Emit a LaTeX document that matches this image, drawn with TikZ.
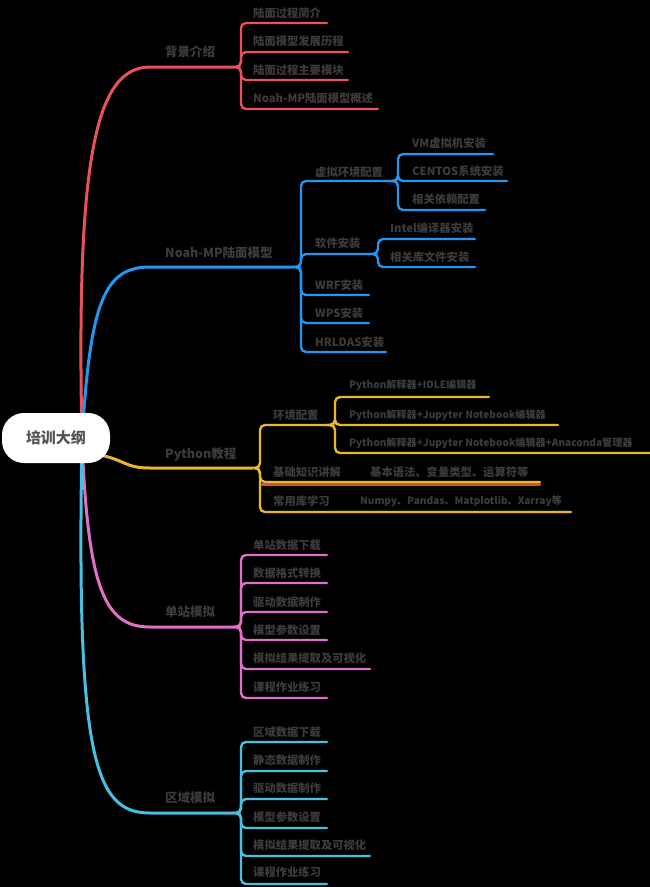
\documentclass[tikz,border=0pt]{standalone}
\usepackage{fontspec}
\setmainfont{Noto Sans CJK SC}
\definecolor{cR}{HTML}{E8525C}
\definecolor{cB}{HTML}{2196F3}
\definecolor{cY}{HTML}{E8B828}
\definecolor{cO}{HTML}{D0502A}
\definecolor{cP}{HTML}{E070C8}
\definecolor{cC}{HTML}{48C0E0}
\definecolor{txt}{HTML}{3C3C3C}
\definecolor{roottxt}{HTML}{555555}
\begin{document}
\begin{tikzpicture}[x=1pt,y=-1pt,
  mainline/.style={line width=3pt,line cap=round},
  subline/.style={line width=2.4pt,line cap=round,rounded corners=5pt},
  lab/.style={text=txt,font=\fontsize{11.3}{12}\selectfont\bfseries,anchor=west,inner sep=0pt},
  latlab/.style={lab,font=\fontsize{10.1}{11}\selectfont\bfseries},
  mlab/.style={text=txt,font=\fontsize{12.5}{13}\selectfont\bfseries,anchor=west,inner sep=0pt},
  rootbox/.style={fill=white,rounded corners=22pt,minimum width=108pt,minimum height=50pt,
    text=roottxt,font=\fontsize{15}{16}\selectfont\bfseries,inner sep=0pt}]
\fill[black] (0,0) rectangle (650,887);
\useasboundingbox (0,0) rectangle (650,887);

\coordinate (hub) at (82,440);
\coordinate (hubY) at (100,455);
% ---------------- main branches
\coordinate (bR) at (233,67);
\coordinate (bB) at (293,267);
\coordinate (bY) at (252,468);
\coordinate (bP) at (233,627);
\coordinate (bC) at (233,813);
\draw[mainline,cR] (hub) .. controls (76,160) and (95,67) .. (150,67) -- (bR);
\draw[mainline,cB] (hub) .. controls (90,300) and (105,267) .. (150,267) -- (bB);
\draw[mainline,cP] (hub) .. controls (88,590) and (105,627) .. (150,627) -- (bP);
\draw[mainline,cC] (hub) .. controls (76,760) and (95,813) .. (150,813) -- (bC);
\draw[mainline,cY] (hubY) .. controls (125,460) and (125,468) .. (150,468) -- (bY);

\node[mlab] (tR) at (165,52) {背景介绍};
\node[mlab] (tB) at (165,253) {Noah-MP陆面模型};
\node[mlab] (tY) at (165,455) {Python教程};
\node[mlab] (tP) at (165,612) {单站模拟};
\node[mlab] (tC) at (165,798) {区域模拟};

% ---------------- 背景介绍
\coordinate (r1) at (327,23);
\coordinate (r2) at (348,52);
\coordinate (r3) at (348,80);
\coordinate (r4) at (378,109);
\foreach \e in {r1,r2,r3,r4}
  \draw[subline,cR] (bR) -- ++(8,0) |- (\e);
\node[lab] (tr1) at (253,13) {陆面过程简介};
\node[lab] (tr2) at (253,41) {陆面模型发展历程};
\node[lab] (tr3) at (253,70) {陆面过程主要模块};
\node[lab] (tr4) at (253,98) {Noah-MP陆面模型概述};

% ---------------- Noah-MP
\coordinate (b1) at (390,181);
\coordinate (b2) at (370,254);
\coordinate (b3) at (369,295);
\coordinate (b4) at (369,323);
\coordinate (b5) at (386,352);
\foreach \e in {b1,b2,b3,b4,b5}
  \draw[subline,cB] (bB) -- ++(8,0) |- (\e);
\node[lab] (tb1) at (315,172) {虚拟环境配置};
\node[lab] (tb2) at (315,243) {软件安装};
\node[lab] (tb3) at (315,285) {WRF安装};
\node[lab] (tb4) at (315,313) {WPS安装};
\node[lab] (tb5) at (315,342) {HRLDAS安装};
\coordinate (b11) at (493,154);
\coordinate (b12) at (507,181);
\coordinate (b13) at (485,210);
\foreach \e in {b11,b12,b13}
  \draw[subline,cB] (b1) -- ++(8,0) |- (\e);
\node[lab] (tb11) at (412,143) {VM虚拟机安装};
\node[lab] (tb12) at (412,171) {CENTOS系统安装};
\node[lab] (tb13) at (412,199) {相关依赖配置};
\coordinate (b21) at (475,239);
\coordinate (b22) at (475,267);
\foreach \e in {b21,b22}
  \draw[subline,cB] (b2) -- ++(8,0) |- (\e);
\node[lab] (tb21) at (390,228) {Intel编译器安装};
\node[lab] (tb22) at (390,257) {相关库文件安装};

% ---------------- Python
\coordinate (y1) at (327,425);
\coordinate (y2) at (540,482);
\coordinate (y3) at (571,512);
\coordinate (y2o) at (262,484.5);
\draw[line width=2.4pt,cO,line cap=round] (y2o) -- (y2 |- y2o);
\foreach \e in {y1,y2,y3}
  \draw[subline,cY] (bY) -- ++(8,0) |- (\e);
\node[lab] (ty1) at (273,415) {环境配置};
\node[lab] (ty2) at (273,472) {基础知识讲解};
\node[lab] (ty2b) at (370,472) {基本语法、变量类型、运算符等};
\node[lab] (ty3) at (273,501) {常用库学习};
\node[latlab] (ty3b) at (360,501) {Numpy、Pandas、Matplotlib、Xarray等};
\coordinate (y11) at (489,397);
\coordinate (y12) at (558,425);
\coordinate (y13) at (650,453);
\foreach \e in {y11,y12,y13}
  \draw[subline,cY] (y1) -- ++(8,0) |- (\e);
\node[latlab] (ty11) at (349,385) {Python解释器+IDLE编辑器};
\node[latlab] (ty12) at (349,415) {Python解释器+Jupyter Notebook编辑器};
\node[latlab] (ty13) at (349,443) {Python解释器+Jupyter Notebook编辑器+Anaconda管理器};

% ---------------- 单站模拟
\coordinate (p1) at (327,555);
\coordinate (p2) at (327,583);
\coordinate (p3) at (327,612);
\coordinate (p4) at (327,640);
\coordinate (p5) at (370,669);
\coordinate (p6) at (327,698);
\foreach \e in {p1,p2,p3,p4,p5,p6}
  \draw[subline,cP] (bP) -- ++(8,0) |- (\e);
\node[lab] (tp1) at (253,545) {单站数据下载};
\node[lab] (tp2) at (253,573) {数据格式转换};
\node[lab] (tp3) at (253,602) {驱动数据制作};
\node[lab] (tp4) at (253,630) {模型参数设置};
\node[lab] (tp5) at (253,658) {模拟结果提取及可视化};
\node[lab] (tp6) at (253,687) {课程作业练习};

% ---------------- 区域模拟
\coordinate (c1) at (327,742);
\coordinate (c2) at (327,771);
\coordinate (c3) at (327,799);
\coordinate (c4) at (327,828);
\coordinate (c5) at (370,856);
\coordinate (c6) at (327,884);
\foreach \e in {c1,c2,c3,c4,c5,c6}
  \draw[subline,cC] (bC) -- ++(8,0) |- (\e);
\node[lab] (tc1) at (253,732) {区域数据下载};
\node[lab] (tc2) at (253,760) {静态数据制作};
\node[lab] (tc3) at (253,788) {驱动数据制作};
\node[lab] (tc4) at (253,817) {模型参数设置};
\node[lab] (tc5) at (253,845) {模拟结果提取及可视化};
\node[lab] (tc6) at (253,872) {课程作业练习};

% ---------------- root
\node[rootbox] (root) at (56,438) {培训大纲};
\end{tikzpicture}
\end{document}
